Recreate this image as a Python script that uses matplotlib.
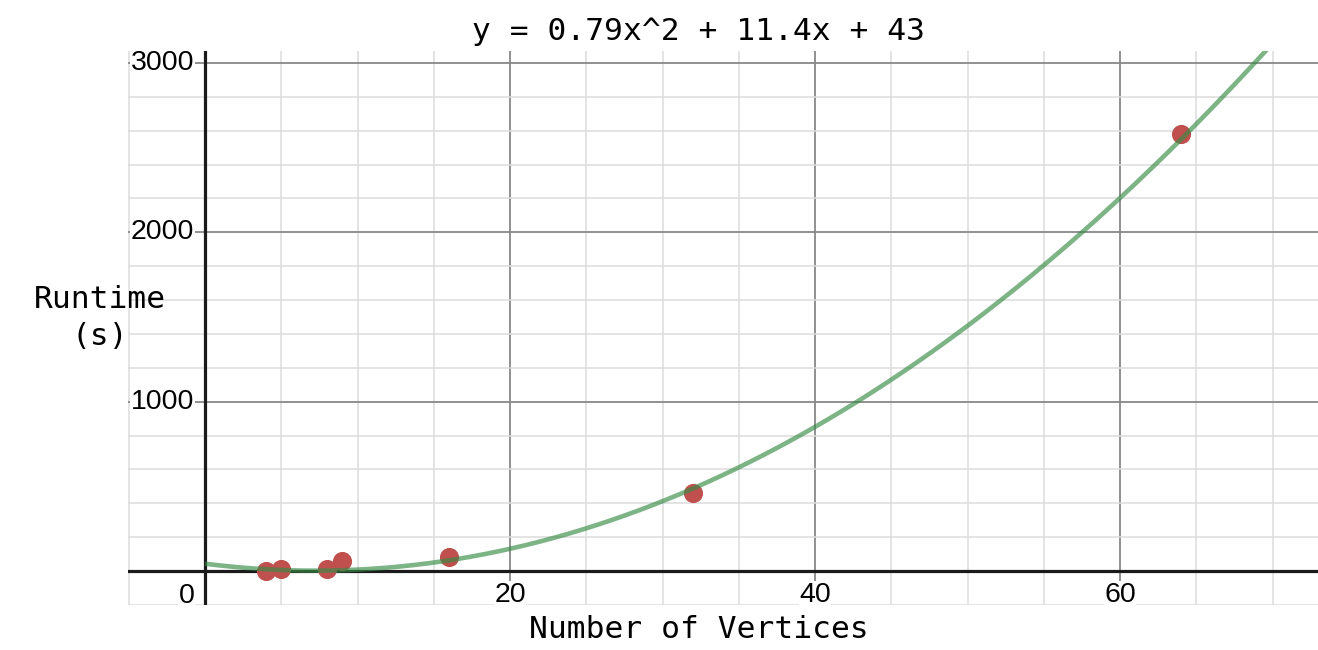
import numpy as np
import matplotlib
matplotlib.use("Agg")
from matplotlib import pyplot as plt

# measured runtimes
vertices = [4, 5, 8, 9, 16, 32, 64]
runtime = [2, 10, 12, 59, 80, 462, 2582]

# quadratic fit shown on the graph (a, b, c)
fit_coef = [0.79, -11.4, 43]
title_text = "y = 0.79x^2 + 11.4x + 43"

x_ticks = [20, 40, 60]
y_ticks = [1000, 2000, 3000]

mono = "DejaVu Sans Mono"
sans = "Liberation Sans"

fig = plt.figure(figsize=(13.18, 6.5), dpi=100)
ax = fig.add_axes([128 / 1318, 45 / 650, 1190 / 1318, 554 / 650])
ax.set_xlim(-5.05, 72.98)
ax.set_ylim(-201, 3071)

# grid: minor every 5 / 200, major every 20 / 1000
for gx in np.arange(-5, 75, 5):
    major = gx % 20 == 0
    ax.axvline(gx, color="#888888" if major else "#dcdcdc",
               lw=1.3 if major else 1.1, zorder=0)
for gy in np.arange(-200, 3200, 200):
    major = gy % 1000 == 0
    ax.axhline(gy, color="#888888" if major else "#dcdcdc",
               lw=1.3 if major else 1.1, zorder=0)
ax.axhline(0, color="#1a1a1a", lw=2.3, zorder=1)
ax.axvline(0, color="#1a1a1a", lw=2.3, zorder=1)

for s in ax.spines.values():
    s.set_visible(False)
ax.set_xticks([])
ax.set_yticks([])

# data points
ax.scatter(vertices, runtime, s=190, color="#c0504d", zorder=2, lw=0)

# fitted curve (drawn over the points, translucent)
xs = np.linspace(0, 73, 400)
ax.plot(xs, np.polyval(fit_coef, xs), color="#388c46", alpha=0.65, lw=3.3,
        zorder=3, solid_capstyle="butt")

# tick labels
box = dict(facecolor="white", edgecolor="none", pad=0.5)
for t in x_ticks:
    ax.text(t, -140, str(t), ha="center", va="center", fontsize=20.5,
            family=sans, bbox=box, zorder=4)
for t in y_ticks:
    ax.text(-0.7, t, str(t), ha="right", va="center", fontsize=20.5,
            family=sans, bbox=box, zorder=4)
ax.text(-0.7, -150, "0", ha="right", va="center", fontsize=20.5,
        family=sans, bbox=box, zorder=4)

fig.text(699 / 1318, 1 - 32 / 650, title_text, ha="center", va="center",
         fontsize=22.5, family=mono)
fig.text(699 / 1318, 1 - 629 / 650, "Number of Vertices", ha="center",
         va="center", fontsize=22.5, family=mono)
fig.text(100 / 1318, 1 - 318 / 650, "Runtime\n(s)", ha="center",
         va="center", fontsize=22.5, family=mono, linespacing=1.35)

fig.savefig("out.png", dpi=100)
